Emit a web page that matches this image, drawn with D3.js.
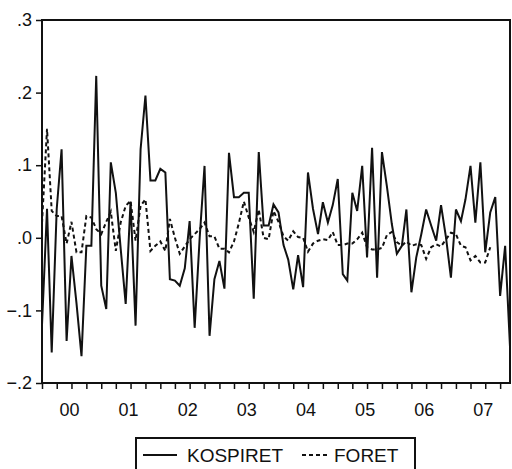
<!DOCTYPE html>
<html>
<head>
<meta charset="utf-8">
<script src="https://cdn.jsdelivr.net/npm/d3@7"></script>
<style>
body { margin: 0; background: #fff; }
text { font-family: "Liberation Sans", Arial, sans-serif; fill: #111; }
</style>
</head>
<body>
<script>
var width = 512;
var height = 469;

// monthly observations, 2000M01 - 2007M12
var startMonth = new Date(Date.UTC(2000, 0, 1));
var endMonth = new Date(Date.UTC(2007, 11, 1));
var years = [2000, 2001, 2002, 2003, 2004, 2005, 2006, 2007];
var yTicks = [-0.2, -0.1, 0.0, 0.1, 0.2, 0.3];

var kospiret = [
  -0.12, 0.04, -0.158, 0.04, 0.122, -0.142, -0.025, -0.09, -0.163, -0.011, -0.011, 0.223,
  -0.066, -0.098, 0.104, 0.062, -0.015, -0.091, 0.05, -0.121, 0.122, 0.196, 0.079, 0.079,
  0.095, 0.09, -0.057, -0.059, -0.066, -0.042, 0.023, -0.124, 0.0, 0.099, -0.135, -0.057,
  -0.032, -0.07, 0.117, 0.056, 0.056, 0.062, 0.062, -0.084, 0.118, 0.017, 0.017, 0.046,
  0.035, -0.01, -0.03, -0.071, -0.024, -0.068, 0.09, 0.04, 0.005, 0.049, 0.021, 0.045,
  0.081, -0.05, -0.059, 0.062, 0.037, 0.099, -0.027, 0.124, -0.055, 0.118, 0.07, 0.019,
  -0.022, -0.011, 0.039, -0.075, -0.027, 0.005, 0.039, 0.017, -0.004, 0.045, 0.0, -0.055,
  0.039, 0.023, 0.053, 0.099, 0.021, 0.104, -0.02, 0.035, 0.056, -0.08, -0.011, -0.15
];

var foret = [
  0.02, 0.15, 0.037, 0.03, 0.03, -0.008, 0.022, -0.02, -0.02, 0.03, 0.028, 0.012,
  0.005, 0.022, 0.036, -0.018, 0.021, 0.044, 0.051, -0.004, 0.044, 0.053, -0.018, -0.011,
  -0.005, -0.018, 0.026, 0.0, -0.022, -0.012, -0.002, 0.005, 0.012, 0.021, 0.002, 0.002,
  -0.015, -0.015, -0.02, -0.005, 0.02, 0.05, 0.028, 0.008, 0.039, 0.0, -0.002, 0.037,
  0.022, 0.002, -0.004, 0.009, 0.001, 0.0, -0.019, -0.008, -0.004, -0.002, -0.003, 0.008,
  -0.01, -0.01, -0.008, -0.008, -0.002, 0.007, -0.013, -0.016, -0.016, -0.014, 0.004, 0.008,
  -0.006, -0.011, -0.005, -0.011, -0.009, -0.01, -0.029, -0.013, -0.009, -0.012, -0.002, 0.007,
  0.005, -0.011, -0.013, -0.031, -0.025, -0.034, -0.034, -0.013, null, null, null, null
];

var seriesNames = ["KOSPIRET", "FORET"];

var months = d3.utcMonth.range(startMonth, d3.utcMonth.offset(endMonth, 1));

var plotLeft = 42, plotRight = 510, plotTop = 20, plotBottom = 383;

var x = d3.scaleUtc().domain([startMonth, endMonth]).range([plotLeft, plotRight]);
var y = d3.scaleLinear().domain([-0.2, 0.3]).range([plotBottom, plotTop]);

var svg = d3.select("body").append("svg")
    .attr("width", width)
    .attr("height", height);

// y axis
var fmt = d3.format(".1f");
var yAxis = svg.append("g")
    .attr("transform", "translate(" + plotLeft + ",0)")
    .call(d3.axisLeft(y).tickValues(yTicks).tickSize(6).tickPadding(4)
        .tickFormat(function(d) { return fmt(d).replace("0.", "."); }));
yAxis.select(".domain").remove();
yAxis.selectAll("line").attr("stroke", "#111").attr("stroke-width", 1.5);
yAxis.selectAll("text").style("font-size", "18px").attr("fill", "#111");

// x axis: quarterly ticks, year labels centred on the year
var xTicks = svg.append("g")
    .attr("transform", "translate(0," + plotBottom + ")")
    .call(d3.axisBottom(x).tickValues(d3.utcMonth.every(3).range(startMonth, d3.utcMonth.offset(endMonth, 1)))
        .tickSize(6).tickFormat(""));
xTicks.select(".domain").remove();
xTicks.selectAll("line").attr("stroke", "#111").attr("stroke-width", 1.5);

var midYears = years.map(function(yr) { return new Date(Date.UTC(yr, 5, 16)); });
var xLabels = svg.append("g")
    .attr("transform", "translate(0," + plotBottom + ")")
    .call(d3.axisBottom(x).tickValues(midYears).tickSize(0).tickPadding(20)
        .tickFormat(d3.utcFormat("%y")));
xLabels.select(".domain").remove();
xLabels.selectAll("text").style("font-size", "18px").attr("fill", "#111");

// lines
var line = d3.line()
    .defined(function(d) { return d.v != null; })
    .x(function(d) { return x(d.t); })
    .y(function(d) { return y(d.v); });

var kData = months.map(function(t, i) { return { t: t, v: kospiret[i] }; });
var fData = months.map(function(t, i) { return { t: t, v: foret[i] }; });

svg.append("path")
    .datum(fData)
    .attr("fill", "none")
    .attr("stroke", "#111")
    .attr("stroke-width", 2)
    .attr("stroke-dasharray", "4,3")
    .attr("d", line);

svg.append("path")
    .datum(kData)
    .attr("fill", "none")
    .attr("stroke", "#111")
    .attr("stroke-width", 2)
    .attr("stroke-linejoin", "miter")
    .attr("d", line);

// frame
svg.append("rect")
    .attr("x", plotLeft)
    .attr("y", plotTop)
    .attr("width", plotRight - plotLeft)
    .attr("height", plotBottom - plotTop)
    .attr("fill", "none")
    .attr("stroke", "#111")
    .attr("stroke-width", 2);

// legend
var legend = svg.append("g");
legend.append("rect")
    .attr("x", 136).attr("y", 438)
    .attr("width", 279).attr("height", 40)
    .attr("fill", "none")
    .attr("stroke", "#111")
    .attr("stroke-width", 2);

legend.append("line")
    .attr("x1", 143).attr("x2", 177)
    .attr("y1", 455).attr("y2", 455)
    .attr("stroke", "#111").attr("stroke-width", 2);
legend.append("text")
    .attr("x", 187).attr("y", 462)
    .style("font-size", "19px")
    .text(seriesNames[0]);

legend.append("line")
    .attr("x1", 302).attr("x2", 330)
    .attr("y1", 455).attr("y2", 455)
    .attr("stroke", "#111").attr("stroke-width", 2)
    .attr("stroke-dasharray", "4,3");
legend.append("text")
    .attr("x", 334).attr("y", 462)
    .style("font-size", "19px")
    .text(seriesNames[1]);
</script>
</body>
</html>
